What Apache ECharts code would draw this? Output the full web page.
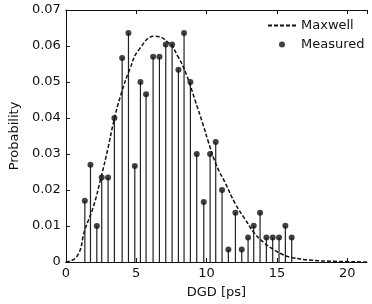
<!DOCTYPE html>
<html>
<head>
<meta charset="utf-8">
<script src="https://cdn.jsdelivr.net/npm/echarts@6/dist/echarts.min.js"></script>
<style>
  html, body { margin: 0; padding: 0; background: #fff; }
  #main { width: 372px; height: 304px; }
</style>
</head>
<body>
<div id="main"></div>
<script>
// measured DGD histogram (stems with dots)
var dgd = [1.35, 1.75, 2.2, 2.55, 3.0, 3.45, 4.0, 4.45, 4.9, 5.3, 5.7, 6.2, 6.65, 7.1, 7.55, 8.0, 8.4,
  8.85, 9.3, 9.8, 10.25, 10.65, 11.1, 11.55, 12.05, 12.5, 12.95, 13.35, 13.8, 14.25, 14.7, 15.15, 15.6, 16.05]
var measured = [0.017, 0.027, 0.010, 0.0235, 0.0235, 0.040, 0.0567, 0.0636, 0.0267, 0.050, 0.0466, 0.057,
  0.057, 0.0604, 0.0604, 0.0534, 0.0636, 0.050, 0.030, 0.0167, 0.030, 0.0333, 0.020, 0.0035, 0.0137,
  0.0035, 0.0068, 0.0101, 0.0137, 0.0068, 0.0068, 0.0068, 0.0101, 0.0068]

// Maxwell fit
var maxwellX = [0, 0.8, 1.35, 1.95, 2.5, 3.0, 3.4, 3.9, 4.55, 5.2, 6.35, 7.3, 7.95, 8.6, 9.2, 9.78, 10.09,
  10.68, 11.36, 12.04, 12.75, 13.4, 14.1, 14.75, 15.4, 16.1, 17.5, 19.0, 21.4]
var maxwellY = [0, 0.0016, 0.0089, 0.0153, 0.0235, 0.0317, 0.039, 0.0463, 0.0536, 0.059, 0.0627, 0.0609,
  0.0572, 0.0517, 0.0447, 0.0378, 0.0338, 0.0271, 0.0217, 0.0162, 0.0118, 0.008, 0.0053, 0.0035, 0.0021,
  0.0012, 0.0005, 0.0002, 0]

var font = 'DejaVu Sans'
var pts = dgd.map(function (x, i) { return [x, measured[i]] })
var curve = maxwellX.map(function (x, i) { return [x, maxwellY[i]] })

var chart = echarts.init(document.getElementById('main'))
var axisBase = {
  type: 'value',
  splitLine: { show: false },
  axisLine: { show: true, lineStyle: { color: '#111', width: 1 } },
  axisTick: { show: true, inside: true, length: 4, lineStyle: { color: '#111' } }
}
var dashIcon = 'path://M0,0h4v2h-4zM6,0h4v2h-4zM12,0h4v2h-4zM18,0h4v2h-4zM24,0h4v2h-4z'
var option = {
  animation: false,
  backgroundColor: '#fff',
  grid: { left: 53, right: 5, top: 10, bottom: 38 },
  legend: {
    orient: 'vertical',
    left: 263,
    top: 14,
    itemWidth: 28,
    itemHeight: 6,
    itemGap: 6,
    textStyle: { fontFamily: font, fontSize: 13, color: '#111' },
    data: [
      { name: 'Maxwell', icon: dashIcon, itemStyle: { color: '#111' } },
      { name: 'Measured', icon: 'circle', itemStyle: { color: '#111' } }
    ]
  },
  xAxis: [
    Object.assign({}, axisBase, {
      min: 0, max: 21.4, interval: 5,
      name: 'DGD [ps]', nameLocation: 'middle', nameGap: 24,
      nameTextStyle: { fontFamily: font, fontSize: 13, color: '#111' },
      axisLabel: { fontFamily: font, fontSize: 13, color: '#111', margin: 5, showMaxLabel: false }
    }),
    Object.assign({}, axisBase, {
      position: 'top', min: 0, max: 21.4, interval: 5,
      axisLabel: { show: false }
    })
  ],
  yAxis: [
    Object.assign({}, axisBase, {
      min: 0, max: 0.07, interval: 0.01,
      name: 'Probability', nameLocation: 'middle', nameGap: 40,
      nameTextStyle: { fontFamily: font, fontSize: 13, color: '#111' },
      axisLabel: { fontFamily: font, fontSize: 13, color: '#111', margin: 5 }
    })
  ],
  series: [
    {
      name: 'stems',
      type: 'bar',
      barWidth: 1.2,
      itemStyle: { color: '#222' },
      data: pts,
      z: 2
    },
    {
      name: 'Measured',
      type: 'scatter',
      symbol: 'circle',
      symbolSize: 6,
      itemStyle: { color: '#111' },
      data: pts,
      z: 4
    },
    {
      name: 'Maxwell',
      type: 'line',
      smooth: true,
      showSymbol: false,
      symbol: 'none',
      lineStyle: { color: '#111', width: 1.5, type: [4, 2] },
      itemStyle: { color: '#111' },
      data: curve,
      z: 3
    }
  ]
}
chart.setOption(option)
</script>
</body>
</html>
